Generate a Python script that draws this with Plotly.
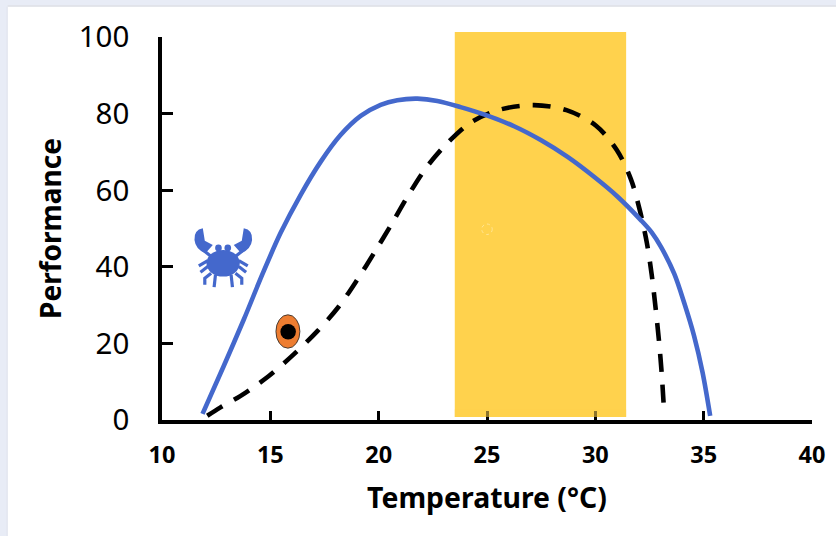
import plotly.graph_objects as go

W, H = 836, 536
L, R, T, B = 161.5, 812.0, 36.5, 420.5

x_ticks = [10, 15, 20, 25, 30, 35, 40]
y_ticks = [0, 20, 40, 60, 80, 100]

blue_temp = [11.87, 12.85, 13.78, 14.63, 15.47, 16.40, 17.32, 18.24, 19.17, 20.09, 20.86, 21.79, 22.71,
             23.78, 24.86, 26.25, 27.48, 28.72, 29.94, 31.03, 32.10, 32.60, 33.03, 33.64, 34.10, 34.56, 34.95, 35.30]
blue_perf = [1.6, 14.1, 26.3, 38.0, 48.8, 58.8, 67.4, 74.4, 79.4, 82.3, 83.5, 83.9, 83.3,
             81.7, 79.8, 76.7, 73.1, 68.7, 63.5, 58.3, 52.2, 49.0, 45.2, 38.2, 30.6, 21.9, 12.4, 1.1]

dash_temp = [12.09, 12.70, 13.63, 14.93, 16.09, 17.17, 18.17, 19.02, 19.82, 20.60, 21.35, 22.17, 23.17,
             24.28, 25.64, 27.17, 28.67, 30.02, 30.99, 31.64, 32.06, 32.38, 32.60, 32.78, 32.93, 33.06, 33.18]
dash_perf = [1.1, 3.3, 6.3, 11.5, 17.2, 23.2, 29.7, 36.7, 43.9, 51.2, 58.5, 65.7, 72.3,
             77.8, 81.1, 82.2, 80.9, 76.9, 70.5, 62.9, 54.6, 46.2, 38.0, 29.3, 21.1, 12.4, 1.6]

BLUE = "#4468CC"
FONT = "Noto Sans"


def px(x):
    return (x - L) / (R - L)


def py(y):
    return (B - y) / (B - T)


def crab_x(v):
    return px(170 + v / 3)


def crab_y(v):
    return py(210 + v / 3)


def crab_path(cmds):
    out = []
    for c in cmds:
        if isinstance(c, str):
            out.append(c)
        else:
            out.append(f"{crab_x(c[0]):.5f},{crab_y(c[1]):.5f}")
    return " ".join(out)


shapes = []
# page chrome
shapes.append(dict(type="rect", xref="paper", yref="paper", x0=px(7), x1=px(W + 2), y0=py(H + 2), y1=py(6),
                   fillcolor="white", line_width=0, layer="below"))
shapes.append(dict(type="line", xref="paper", yref="paper", x0=px(7), x1=px(W + 2), y0=py(5.5), y1=py(5.5),
                   line=dict(color="#DFE1E6", width=1.5), layer="below"))
shapes.append(dict(type="line", xref="paper", yref="paper", x0=px(6.5), x1=px(6.5), y0=py(H + 2), y1=py(6),
                   line=dict(color="#DFE3EC", width=1), layer="below"))
# thermal band
shapes.append(dict(type="rect", xref="paper", yref="paper", x0=px(454.5), x1=px(626), y0=py(417.5), y1=py(31.5),
                   fillcolor="#FFD24D", line_width=0, layer="below"))
# tint over ticks inside the band
shapes.append(dict(type="rect", xref="paper", yref="paper", x0=px(454.5), x1=px(626), y0=py(417.5), y1=py(410),
                   fillcolor="#FFD24D", opacity=0.55, line_width=0, layer="above"))
# faint ring
shapes.append(dict(type="circle", xref="paper", yref="paper", x0=px(481.5), x1=px(492), y0=py(234.5), y1=py(224),
                   line=dict(color="#FFE694", width=1, dash="dot"), fillcolor="rgba(0,0,0,0)", layer="above"))
# egg
shapes.append(dict(type="circle", xref="paper", yref="paper", x0=px(275.5), x1=px(299.5), y0=py(348.5), y1=py(315),
                   fillcolor="#ED7D31", line=dict(color="#222222", width=0.8), layer="above"))
shapes.append(dict(type="circle", xref="paper", yref="paper", x0=px(280), x1=px(295.5), y0=py(339.8), y1=py(324.3),
                   fillcolor="black", line_width=0, layer="above"))

# crab
for mirror in (False, True):
    def m(p):
        return (317 - p[0], p[1]) if mirror else p
    claw = ["M", m((97, 55)), "Q", m((70, 60)), m((72, 90)), "Q", m((75, 118)), m((105, 130)),
            "L", m((127, 105)), "L", m((103, 92)), "Z"]
    shapes.append(dict(type="path", xref="paper", yref="paper", path=crab_path(claw),
                       fillcolor=BLUE, line_width=0, layer="above"))
    legs = [[(95, 118), (125, 142)], [(112, 152), (85, 168)], [(112, 170), (90, 187)],
            [(122, 190), (103, 205), (103, 225)], [(135, 195), (131, 232)]]
    for leg in legs:
        cmds = ["M", m(leg[0])]
        for q in leg[1:]:
            cmds += ["L", m(q)]
        shapes.append(dict(type="path", xref="paper", yref="paper", path=crab_path(cmds),
                           line=dict(color=BLUE, width=3.2), layer="above"))
shapes.append(dict(type="circle", xref="paper", yref="paper", x0=crab_x(108), x1=crab_x(208),
                   y0=crab_y(200), y1=crab_y(120), fillcolor=BLUE, line_width=0, layer="above"))
for ex in (144, 172):
    shapes.append(dict(type="circle", xref="paper", yref="paper", x0=crab_x(ex - 10), x1=crab_x(ex + 10),
                       y0=crab_y(125), y1=crab_y(104), fillcolor=BLUE, line_width=0, layer="above"))

fig = go.Figure()
fig.add_trace(go.Scatter(x=dash_temp, y=dash_perf, mode="lines", name="Dashed",
                         line=dict(color="black", width=4.6, dash="18px,13px", shape="spline", smoothing=0.9),
                         showlegend=False, hoverinfo="skip"))
fig.add_trace(go.Scatter(x=blue_temp, y=blue_perf, mode="lines", name="Solid",
                         line=dict(color=BLUE, width=4.6, shape="spline", smoothing=0.9),
                         showlegend=False, hoverinfo="skip"))

fig.update_layout(
    width=W, height=H, autosize=False,
    margin=dict(l=L, r=W - R, t=T, b=H - B, pad=0),
    paper_bgcolor="#E8ECF6", plot_bgcolor="rgba(0,0,0,0)",
    shapes=shapes, showlegend=False,
    font=dict(family=FONT, color="black"),
    xaxis=dict(range=[10, 40], tickvals=x_ticks, ticktext=[str(v) for v in x_ticks],
               showgrid=False, zeroline=False, showline=True, linecolor="black", linewidth=3.5,
               ticks="inside", ticklen=9, tickwidth=3, tickcolor="black",
               tickfont=dict(family=FONT, size=23.5, color="black", weight="bold"), ticklabelstandoff=11,
               title=dict(text="Temperature (°C)", font=dict(family=FONT, size=28.4, color="black", weight="bold"),
                          standoff=20)),
    yaxis=dict(range=[0, 100], tickvals=y_ticks, ticktext=[str(v) for v in y_ticks],
               showgrid=False, zeroline=False, showline=True, linecolor="black", linewidth=3.5,
               ticks="inside", ticklen=11, tickwidth=3, tickcolor="black",
               tickfont=dict(family=FONT, size=29.5, color="black"), ticklabelstandoff=23,
               title=dict(text="Performance", font=dict(family=FONT, size=28, color="black", weight="bold"),
                          standoff=10)),
)

fig.write_html("out.html", config=dict(displayModeBar=False), post_script="document.body.style.margin='0';")
